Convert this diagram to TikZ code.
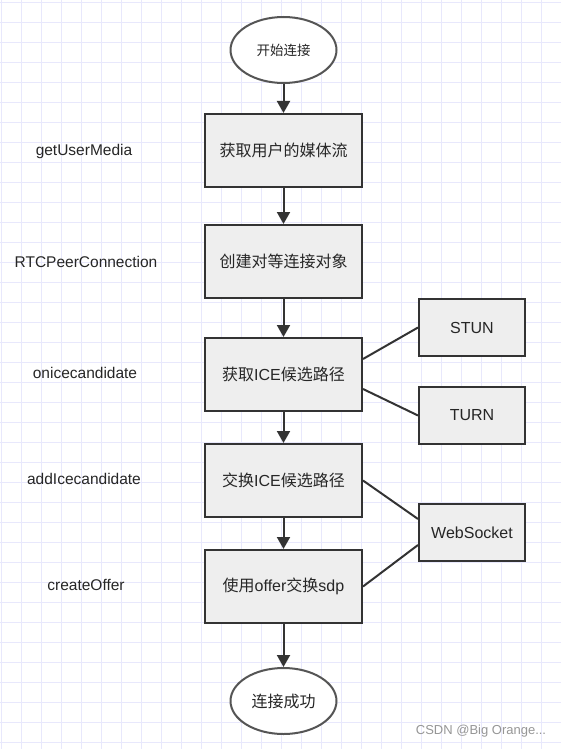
\documentclass[tikz,border=0pt]{standalone}
\usepackage{fontspec}
\setmainfont{Liberation Sans}
\newfontfamily\cjk{Noto Sans CJK SC}
\usetikzlibrary{shapes.geometric,arrows.meta}
\definecolor{gridc}{RGB}{232,232,252}
\definecolor{boxfill}{RGB}{238,238,238}
\definecolor{boxline}{RGB}{51,51,51}
\definecolor{ellline}{RGB}{85,85,85}
\definecolor{wm}{RGB}{150,150,150}
\tikzset{
  stepbox/.style={draw=boxline, fill=boxfill, line width=2pt, minimum width=157pt, minimum height=73pt, inner sep=0pt, font=\fontsize{16}{19}\selectfont, text=black!85},
  sidebox/.style={draw=boxline, fill=boxfill, line width=2pt, minimum width=106pt, minimum height=57pt, inner sep=0pt, font=\fontsize{16}{19}\selectfont, text=black!85},
  termnode/.style={ellipse, draw=ellline, fill=white, line width=2pt, minimum width=106pt, minimum height=66pt, inner sep=0pt, text=black!85},
  apilabel/.style={font=\fontsize{15.5}{18}\selectfont, text=black!85, inner sep=0pt},
  flow/.style={draw=boxline, line width=2pt, -{Triangle[length=12pt,width=13pt]}},
  link/.style={draw=boxline, line width=2pt},
}
\begin{document}
\begin{tikzpicture}[x=1pt,y=-1pt]
\useasboundingbox (0,0) rectangle (561,749);
\fill[white] (0,0) rectangle (561,749);
\foreach \x in {1,21,...,561} \draw[gridc, line width=0.7pt] (\x,0) -- (\x,749);
\foreach \y in {2,22,...,749} \draw[gridc, line width=0.7pt] (0,\y) -- (561,\y);

\node[termnode, font=\fontsize{13.5}{16}\selectfont] (start) at (283.5,50) {\cjk 开始连接};
\node[stepbox] (b1) at (283.5,150.5) {\cjk 获取用户的媒体流};
\node[stepbox] (b2) at (283.5,261.5) {\cjk 创建对等连接对象};
\node[stepbox] (b3) at (283.5,374.5) {{\cjk 获取}ICE{\cjk 候选路径}};
\node[stepbox] (b4) at (283.5,480.5) {{\cjk 交换}ICE{\cjk 候选路径}};
\node[stepbox] (b5) at (283.5,586.5) {{\cjk 使用}offer{\cjk 交换}sdp};
\node[termnode, font=\fontsize{16}{19}\selectfont] (end) at (283.5,701) {\cjk 连接成功};

\node[sidebox] (stun) at (472,327.5) {STUN};
\node[sidebox] (turn) at (472,415.5) {TURN};
\node[sidebox] (ws) at (472,532.5) {WebSocket};

\node[apilabel] (l1) at (84,151) {getUserMedia};
\node[apilabel] (l2) at (86,262) {RTCPeerConnection};
\node[apilabel] (l3) at (85,373) {onicecandidate};
\node[apilabel] (l4) at (84,479) {addIcecandidate};
\node[apilabel] (l5) at (86,585) {createOffer};

\draw[flow] (start) -- (b1);
\draw[flow] (b1) -- (b2);
\draw[flow] (b2) -- (b3);
\draw[flow] (b3) -- (b4);
\draw[flow] (b4) -- (b5);
\draw[flow] (b5) -- (end);

\draw[link] ([yshift=15.5pt]b3.east) -- (stun.west);
\draw[link] ([yshift=-14.5pt]b3.east) -- (turn.west);
\draw[link] (b4.east) -- ([yshift=13.5pt]ws.west);
\draw[link] (b5.east) -- ([yshift=-12.5pt]ws.west);

\node[font=\fontsize{13}{15}\selectfont, text=wm, inner sep=0pt] (wmark) at (481,731) {CSDN @Big Orange...};
\end{tikzpicture}
\end{document}
